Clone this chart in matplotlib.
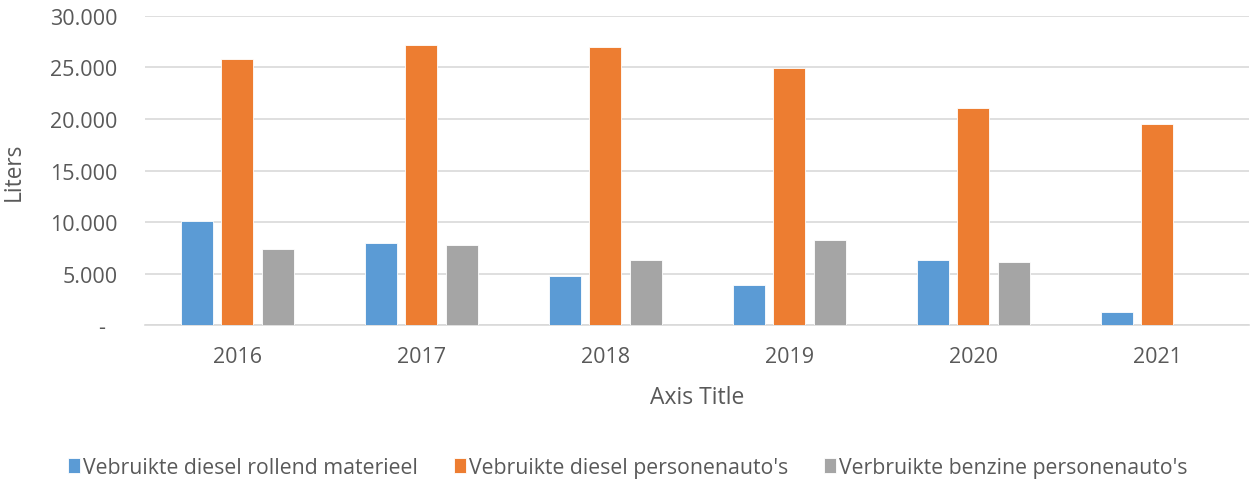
import numpy as np
import matplotlib.pyplot as plt

# Values (liters)
years = ['2016', '2017', '2018', '2019', '2020', '2021']
diesel_rollend = [10110, 8010, 4810, 3910, 6330, 1260]
diesel_auto = [25840, 27130, 26940, 24900, 21060, 19480]
benzine_auto = [7360, 7780, 6360, 8300, 6100, 0]

labels = ["Vebruikte diesel rollend materieel",
          "Vebruikte diesel personenauto's",
          "Verbruikte benzine personenauto's"]
colors = ['#5B9BD5', '#ED7D31', '#A5A5A5']
text_col = '#595959'

plt.rcParams['font.family'] = ['Open Sans', 'DejaVu Sans']

fig = plt.figure(figsize=(12.56, 4.81), dpi=100)
ax = fig.add_axes([0.1155, 0.3216, 0.879, 0.6437])

x = np.arange(len(years))
width = 0.174
step = 0.22
for i, (vals, lab, col) in enumerate(zip([diesel_rollend, diesel_auto, benzine_auto], labels, colors)):
    ax.bar(x + (i - 1) * step, vals, width, color=col, label=lab,
           edgecolor='white', linewidth=0.6, zorder=3)

ax.set_xlim(-0.5, len(years) - 0.5)
ax.set_ylim(0, 30000)
ax.set_yticks(range(0, 30001, 5000))
ax.set_yticklabels(['-  '] + [f'{v:,}'.replace(',', '.') for v in range(5000, 30001, 5000)])
ax.set_xticks(x)
ax.set_xticklabels(years)

ax.grid(axis='y', color='#D9D9D9', linewidth=1.2, zorder=0)
for s in ['top', 'right', 'left']:
    ax.spines[s].set_visible(False)
ax.spines['bottom'].set_color('#D9D9D9')
ax.spines['bottom'].set_linewidth(1.2)
ax.tick_params(axis='both', length=0, colors=text_col)
ax.tick_params(axis='y', pad=20, labelsize=15.5)
ax.tick_params(axis='x', pad=15, labelsize=15.5)

ax.set_xlabel('Axis Title', fontsize=16.5, color=text_col, labelpad=13)
ax.set_ylabel('Liters', fontsize=16.3, color=text_col)
ax.yaxis.set_label_coords(-0.108, 0.5)

fig.legend(loc='lower center', bbox_to_anchor=(0.5, -0.035), ncol=3, frameon=False,
           fontsize=15.3, labelcolor=text_col, handlelength=0.55, handleheight=0.7,
           handletextpad=0.15, columnspacing=1.7)

fig.savefig('out.png', dpi=100)
